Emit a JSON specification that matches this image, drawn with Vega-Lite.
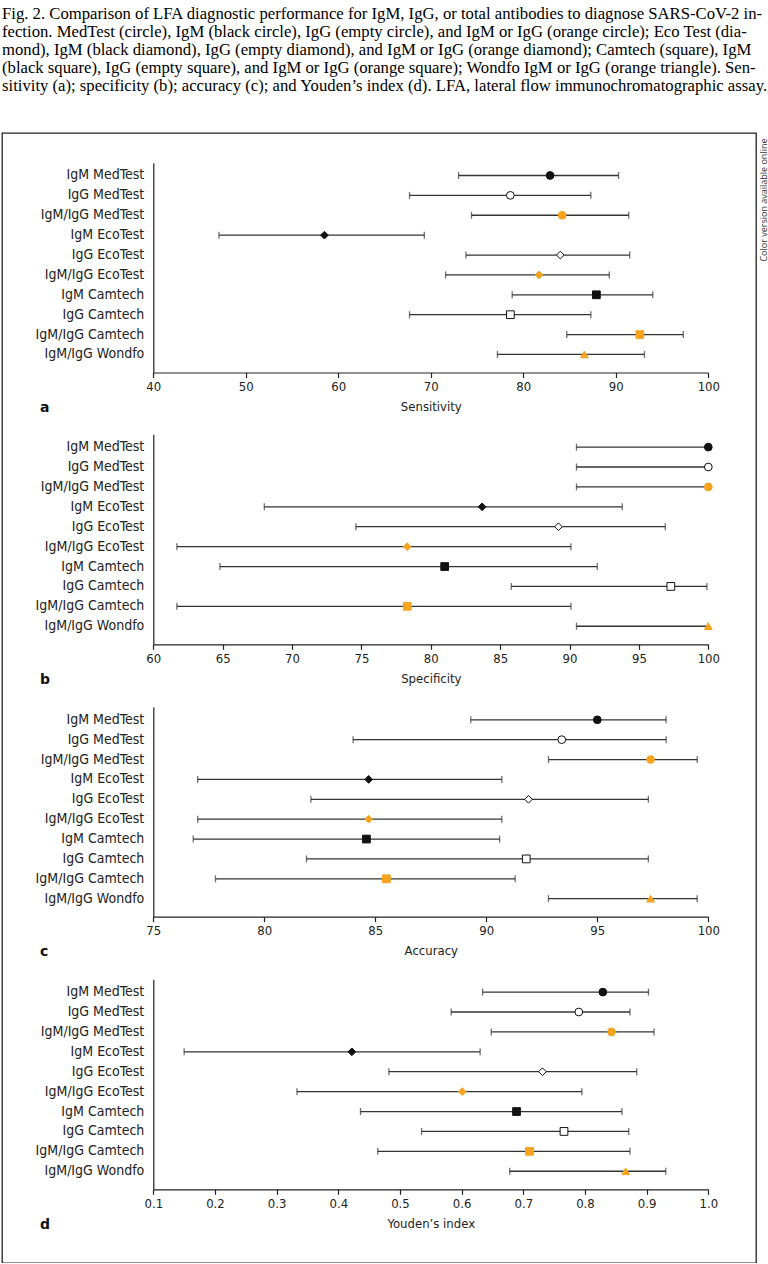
{
  "$schema": "https://vega.github.io/schema/vega-lite/v6.json",
  "width": 754,
  "height": 1130,
  "padding": {"left": 2, "top": 6, "right": 0, "bottom": 0},
  "background": "white",
  "title": {
    "text": [
      "Fig. 2. Comparison of LFA diagnostic performance for IgM, IgG, or total antibodies to diagnose SARS-CoV-2 in-",
      "fection. MedTest (circle), IgM (black circle), IgG (empty circle), and IgM or IgG (orange circle); Eco Test (dia-",
      "mond), IgM (black diamond), IgG (empty diamond), and IgM or IgG (orange diamond); Camtech (square), IgM",
      "(black square), IgG (empty square), and IgM or IgG (orange square); Wondfo IgM or IgG (orange triangle). Sen-",
      "sitivity (a); specificity (b); accuracy (c); and Youden’s index (d). LFA, lateral flow immunochromatographic assay."
    ],
    "anchor": "start",
    "frame": "group",
    "font": "Liberation Serif",
    "fontSize": 16.7,
    "fontWeight": "normal",
    "color": "#000",
    "lineHeight": 18,
    "offset": 38
  },
  "data": {
    "values": [
      {"panel": "a", "test": "IgM MedTest", "kit": "MedTest", "type": "IgM", "est": 82.9, "lo": 73.0, "hi": 90.3},
      {"panel": "a", "test": "IgG MedTest", "kit": "MedTest", "type": "IgG", "est": 78.6, "lo": 67.7, "hi": 87.3},
      {"panel": "a", "test": "IgM/IgG MedTest", "kit": "MedTest", "type": "IgM/IgG", "est": 84.2, "lo": 74.4, "hi": 91.4},
      {"panel": "a", "test": "IgM EcoTest", "kit": "EcoTest", "type": "IgM", "est": 58.5, "lo": 47.1, "hi": 69.3},
      {"panel": "a", "test": "IgG EcoTest", "kit": "EcoTest", "type": "IgG", "est": 84.0, "lo": 73.8, "hi": 91.5},
      {"panel": "a", "test": "IgM/IgG EcoTest", "kit": "EcoTest", "type": "IgM/IgG", "est": 81.7, "lo": 71.6, "hi": 89.3},
      {"panel": "a", "test": "IgM Camtech", "kit": "Camtech", "type": "IgM", "est": 87.9, "lo": 78.8, "hi": 94.0},
      {"panel": "a", "test": "IgG Camtech", "kit": "Camtech", "type": "IgG", "est": 78.6, "lo": 67.7, "hi": 87.3},
      {"panel": "a", "test": "IgM/IgG Camtech", "kit": "Camtech", "type": "IgM/IgG", "est": 92.6, "lo": 84.7, "hi": 97.3},
      {"panel": "a", "test": "IgM/IgG Wondfo", "kit": "Wondfo", "type": "IgM/IgG", "est": 86.6, "lo": 77.2, "hi": 93.1},

      {"panel": "b", "test": "IgM MedTest", "kit": "MedTest", "type": "IgM", "est": 100, "lo": 90.5, "hi": 100},
      {"panel": "b", "test": "IgG MedTest", "kit": "MedTest", "type": "IgG", "est": 100, "lo": 90.5, "hi": 100},
      {"panel": "b", "test": "IgM/IgG MedTest", "kit": "MedTest", "type": "IgM/IgG", "est": 100, "lo": 90.5, "hi": 100},
      {"panel": "b", "test": "IgM EcoTest", "kit": "EcoTest", "type": "IgM", "est": 83.7, "lo": 68.0, "hi": 93.8},
      {"panel": "b", "test": "IgG EcoTest", "kit": "EcoTest", "type": "IgG", "est": 89.2, "lo": 74.6, "hi": 96.9},
      {"panel": "b", "test": "IgM/IgG EcoTest", "kit": "EcoTest", "type": "IgM/IgG", "est": 78.3, "lo": 61.7, "hi": 90.1},
      {"panel": "b", "test": "IgM Camtech", "kit": "Camtech", "type": "IgM", "est": 81.0, "lo": 64.8, "hi": 92.0},
      {"panel": "b", "test": "IgG Camtech", "kit": "Camtech", "type": "IgG", "est": 97.3, "lo": 85.8, "hi": 99.9},
      {"panel": "b", "test": "IgM/IgG Camtech", "kit": "Camtech", "type": "IgM/IgG", "est": 78.3, "lo": 61.7, "hi": 90.1},
      {"panel": "b", "test": "IgM/IgG Wondfo", "kit": "Wondfo", "type": "IgM/IgG", "est": 100, "lo": 90.5, "hi": 100},

      {"panel": "c", "test": "IgM MedTest", "kit": "MedTest", "type": "IgM", "est": 95.0, "lo": 89.3, "hi": 98.1},
      {"panel": "c", "test": "IgG MedTest", "kit": "MedTest", "type": "IgG", "est": 93.4, "lo": 84.0, "hi": 98.1},
      {"panel": "c", "test": "IgM/IgG MedTest", "kit": "MedTest", "type": "IgM/IgG", "est": 97.4, "lo": 92.8, "hi": 99.5},
      {"panel": "c", "test": "IgM EcoTest", "kit": "EcoTest", "type": "IgM", "est": 84.7, "lo": 77.0, "hi": 90.7},
      {"panel": "c", "test": "IgG EcoTest", "kit": "EcoTest", "type": "IgG", "est": 91.9, "lo": 82.1, "hi": 97.3},
      {"panel": "c", "test": "IgM/IgG EcoTest", "kit": "EcoTest", "type": "IgM/IgG", "est": 84.7, "lo": 77.0, "hi": 90.7},
      {"panel": "c", "test": "IgM Camtech", "kit": "Camtech", "type": "IgM", "est": 84.6, "lo": 76.8, "hi": 90.6},
      {"panel": "c", "test": "IgG Camtech", "kit": "Camtech", "type": "IgG", "est": 91.8, "lo": 81.9, "hi": 97.3},
      {"panel": "c", "test": "IgM/IgG Camtech", "kit": "Camtech", "type": "IgM/IgG", "est": 85.5, "lo": 77.8, "hi": 91.3},
      {"panel": "c", "test": "IgM/IgG Wondfo", "kit": "Wondfo", "type": "IgM/IgG", "est": 97.4, "lo": 92.8, "hi": 99.5},

      {"panel": "d", "test": "IgM MedTest", "kit": "MedTest", "type": "IgM", "est": 0.829, "lo": 0.634, "hi": 0.903},
      {"panel": "d", "test": "IgG MedTest", "kit": "MedTest", "type": "IgG", "est": 0.790, "lo": 0.583, "hi": 0.873},
      {"panel": "d", "test": "IgM/IgG MedTest", "kit": "MedTest", "type": "IgM/IgG", "est": 0.843, "lo": 0.648, "hi": 0.912},
      {"panel": "d", "test": "IgM EcoTest", "kit": "EcoTest", "type": "IgM", "est": 0.422, "lo": 0.150, "hi": 0.630},
      {"panel": "d", "test": "IgG EcoTest", "kit": "EcoTest", "type": "IgG", "est": 0.731, "lo": 0.482, "hi": 0.884},
      {"panel": "d", "test": "IgM/IgG EcoTest", "kit": "EcoTest", "type": "IgM/IgG", "est": 0.601, "lo": 0.333, "hi": 0.795},
      {"panel": "d", "test": "IgM Camtech", "kit": "Camtech", "type": "IgM", "est": 0.689, "lo": 0.436, "hi": 0.860},
      {"panel": "d", "test": "IgG Camtech", "kit": "Camtech", "type": "IgG", "est": 0.766, "lo": 0.535, "hi": 0.871},
      {"panel": "d", "test": "IgM/IgG Camtech", "kit": "Camtech", "type": "IgM/IgG", "est": 0.710, "lo": 0.464, "hi": 0.873},
      {"panel": "d", "test": "IgM/IgG Wondfo", "kit": "Wondfo", "type": "IgM/IgG", "est": 0.866, "lo": 0.678, "hi": 0.931}
    ]
  },
  "layer": [
    {
      "transform": [{"filter": "datum.panel === 'a'"}],
      "resolve": {"axis": {"x": "independent", "y": "independent"}},
      "layer": [
        {
          "mark": {"type": "rule", "color": "#333", "strokeWidth": 1.3},
          "encoding": {
            "y": {"field": "test", "type": "nominal",
              "scale": {"domain": ["IgM MedTest", "IgG MedTest", "IgM/IgG MedTest", "IgM EcoTest", "IgG EcoTest", "IgM/IgG EcoTest", "IgM Camtech", "IgG Camtech", "IgM/IgG Camtech", "IgM/IgG Wondfo"], "range": [29.7, 239.5], "padding": 0.55, "align": 0.38, "round": false},
              "axis": {"orient": "left", "offset": -151.3, "title": "a", "titleAngle": 0, "titleAlign": "left", "titleBaseline": "middle", "titleX": -113.8, "titleY": 274.7, "titleFont": "DejaVu Sans", "titleFontWeight": "bold", "titleFontSize": 14, "titleColor": "#111"}},
            "x": {"field": "lo", "type": "quantitative",
              "scale": {"domain": [40, 100], "range": [151.3, 706.3], "nice": false, "zero": false},
              "axis": {"orient": "bottom", "offset": -890.5, "values": [40, 50, 60, 70, 80, 90, 100], "title": "Sensitivity"}},
            "x2": {"field": "hi"}
          }
        },
        {
          "mark": {"type": "tick", "color": "#333", "thickness": 1.3, "size": 7},
          "encoding": {
            "y": {"field": "test", "type": "nominal", "axis": null},
            "x": {"field": "lo", "type": "quantitative", "axis": null}
          }
        },
        {
          "mark": {"type": "tick", "color": "#333", "thickness": 1.3, "size": 7},
          "encoding": {
            "y": {"field": "test", "type": "nominal", "axis": null},
            "x": {"field": "hi", "type": "quantitative", "axis": null}
          }
        },
        {
          "mark": {"type": "point", "filled": true, "size": 60, "strokeWidth": 1, "opacity": 1},
          "encoding": {
            "y": {"field": "test", "type": "nominal",
              "axis": {"orient": "right", "offset": 0, "domain": false, "ticks": false, "labels": false, "title": "Color version available online", "titleAngle": 270, "titleAlign": "right", "titleBaseline": "middle", "titleX": 7.3, "titleY": 5, "titleFont": "Open Sans", "titleFontSize": 9, "titleFontWeight": "normal", "titleColor": "#333"}},
            "x": {"field": "est", "type": "quantitative", "axis": null},
            "shape": {"field": "kit", "type": "nominal", "scale": {"domain": ["MedTest", "EcoTest", "Camtech", "Wondfo"], "range": ["circle", "diamond", "square", "triangle-up"]}, "legend": null},
            "fill": {"field": "type", "type": "nominal", "scale": {"domain": ["IgM", "IgG", "IgM/IgG"], "range": ["#111111", "#ffffff", "#F6A31E"]}, "legend": null},
            "stroke": {"field": "type", "type": "nominal", "scale": {"domain": ["IgM", "IgG", "IgM/IgG"], "range": ["#111111", "#111111", "#F6A31E"]}, "legend": null}
          }
        }
      ]
    },
    {
      "transform": [{"filter": "datum.panel === 'b'"}],
      "resolve": {"axis": {"x": "independent", "y": "independent"}},
      "layer": [
        {
          "mark": {"type": "rule", "color": "#333", "strokeWidth": 1.3},
          "encoding": {
            "y": {"field": "test", "type": "nominal",
              "scale": {"domain": ["IgM MedTest", "IgG MedTest", "IgM/IgG MedTest", "IgM EcoTest", "IgG EcoTest", "IgM/IgG EcoTest", "IgM Camtech", "IgG Camtech", "IgM/IgG Camtech", "IgM/IgG Wondfo"], "range": [301.3, 511.3], "padding": 0.55, "align": 0.38, "round": false},
              "axis": {"orient": "left", "offset": -151.3, "title": "b", "titleAngle": 0, "titleAlign": "left", "titleBaseline": "middle", "titleX": -113.8, "titleY": 546, "titleFont": "DejaVu Sans", "titleFontWeight": "bold", "titleFontSize": 14, "titleColor": "#111"}},
            "x": {"field": "lo", "type": "quantitative",
              "scale": {"domain": [60, 100], "range": [151.3, 706.3], "nice": false, "zero": false},
              "axis": {"orient": "bottom", "offset": -618.7, "values": [60, 65, 70, 75, 80, 85, 90, 95, 100], "title": "Specificity"}},
            "x2": {"field": "hi"}
          }
        },
        {
          "mark": {"type": "tick", "color": "#333", "thickness": 1.3, "size": 7},
          "encoding": {
            "y": {"field": "test", "type": "nominal", "axis": null},
            "x": {"field": "lo", "type": "quantitative", "axis": null}
          }
        },
        {
          "mark": {"type": "tick", "color": "#333", "thickness": 1.3, "size": 7},
          "encoding": {
            "y": {"field": "test", "type": "nominal", "axis": null},
            "x": {"field": "hi", "type": "quantitative", "axis": null}
          }
        },
        {
          "mark": {"type": "point", "filled": true, "size": 60, "strokeWidth": 1, "opacity": 1},
          "encoding": {
            "y": {"field": "test", "type": "nominal", "axis": null},
            "x": {"field": "est", "type": "quantitative", "axis": null},
            "shape": {"field": "kit", "type": "nominal", "legend": null},
            "fill": {"field": "type", "type": "nominal", "legend": null},
            "stroke": {"field": "type", "type": "nominal", "legend": null}
          }
        }
      ]
    },
    {
      "transform": [{"filter": "datum.panel === 'c'"}],
      "resolve": {"axis": {"x": "independent", "y": "independent"}},
      "layer": [
        {
          "mark": {"type": "rule", "color": "#333", "strokeWidth": 1.3},
          "encoding": {
            "y": {"field": "test", "type": "nominal",
              "scale": {"domain": ["IgM MedTest", "IgG MedTest", "IgM/IgG MedTest", "IgM EcoTest", "IgG EcoTest", "IgM/IgG EcoTest", "IgM Camtech", "IgG Camtech", "IgM/IgG Camtech", "IgM/IgG Wondfo"], "range": [574, 783.7], "padding": 0.55, "align": 0.38, "round": false},
              "axis": {"orient": "left", "offset": -151.3, "title": "c", "titleAngle": 0, "titleAlign": "left", "titleBaseline": "middle", "titleX": -113.8, "titleY": 818.7, "titleFont": "DejaVu Sans", "titleFontWeight": "bold", "titleFontSize": 14, "titleColor": "#111"}},
            "x": {"field": "lo", "type": "quantitative",
              "scale": {"domain": [75, 100], "range": [151.3, 706.3], "nice": false, "zero": false},
              "axis": {"orient": "bottom", "offset": -346.3, "values": [75, 80, 85, 90, 95, 100], "title": "Accuracy"}},
            "x2": {"field": "hi"}
          }
        },
        {
          "mark": {"type": "tick", "color": "#333", "thickness": 1.3, "size": 7},
          "encoding": {
            "y": {"field": "test", "type": "nominal", "axis": null},
            "x": {"field": "lo", "type": "quantitative", "axis": null}
          }
        },
        {
          "mark": {"type": "tick", "color": "#333", "thickness": 1.3, "size": 7},
          "encoding": {
            "y": {"field": "test", "type": "nominal", "axis": null},
            "x": {"field": "hi", "type": "quantitative", "axis": null}
          }
        },
        {
          "mark": {"type": "point", "filled": true, "size": 60, "strokeWidth": 1, "opacity": 1},
          "encoding": {
            "y": {"field": "test", "type": "nominal", "axis": null},
            "x": {"field": "est", "type": "quantitative", "axis": null},
            "shape": {"field": "kit", "type": "nominal", "legend": null},
            "fill": {"field": "type", "type": "nominal", "legend": null},
            "stroke": {"field": "type", "type": "nominal", "legend": null}
          }
        }
      ]
    },
    {
      "transform": [{"filter": "datum.panel === 'd'"}],
      "resolve": {"axis": {"x": "independent", "y": "independent"}},
      "layer": [
        {
          "mark": {"type": "rule", "color": "#333", "strokeWidth": 1.3},
          "encoding": {
            "y": {"field": "test", "type": "nominal",
              "scale": {"domain": ["IgM MedTest", "IgG MedTest", "IgM/IgG MedTest", "IgM EcoTest", "IgG EcoTest", "IgM/IgG EcoTest", "IgM Camtech", "IgG Camtech", "IgM/IgG Camtech", "IgM/IgG Wondfo"], "range": [846.3, 1056.3], "padding": 0.55, "align": 0.38, "round": false},
              "axis": {"orient": "left", "offset": -151.3, "title": "d", "titleAngle": 0, "titleAlign": "left", "titleBaseline": "middle", "titleX": -113.8, "titleY": 1091.3, "titleFont": "DejaVu Sans", "titleFontWeight": "bold", "titleFontSize": 14, "titleColor": "#111"}},
            "x": {"field": "lo", "type": "quantitative",
              "scale": {"domain": [0.1, 1.0], "range": [151.3, 706.3], "nice": false, "zero": false},
              "axis": {"orient": "bottom", "offset": -73.7, "values": [0.1, 0.2, 0.3, 0.4, 0.5, 0.6, 0.7, 0.8, 0.9, 1.0], "format": ".1f", "title": "Youden’s index"}},
            "x2": {"field": "hi"}
          }
        },
        {
          "mark": {"type": "tick", "color": "#333", "thickness": 1.3, "size": 7},
          "encoding": {
            "y": {"field": "test", "type": "nominal", "axis": null},
            "x": {"field": "lo", "type": "quantitative", "axis": null}
          }
        },
        {
          "mark": {"type": "tick", "color": "#333", "thickness": 1.3, "size": 7},
          "encoding": {
            "y": {"field": "test", "type": "nominal", "axis": null},
            "x": {"field": "hi", "type": "quantitative", "axis": null}
          }
        },
        {
          "mark": {"type": "point", "filled": true, "size": 60, "strokeWidth": 1, "opacity": 1},
          "encoding": {
            "y": {"field": "test", "type": "nominal", "axis": null},
            "x": {"field": "est", "type": "quantitative", "axis": null},
            "shape": {"field": "kit", "type": "nominal", "legend": null},
            "fill": {"field": "type", "type": "nominal", "legend": null},
            "stroke": {"field": "type", "type": "nominal", "legend": null}
          }
        }
      ]
    }
  ],
  "resolve": {"scale": {"x": "independent", "y": "independent"}, "axis": {"x": "independent", "y": "independent"}},
  "config": {
    "view": {"stroke": "#222", "strokeWidth": 1.3},
    "axis": {
      "grid": false,
      "domainColor": "#222",
      "domainWidth": 1.2,
      "tickColor": "#222",
      "tickWidth": 1.2,
      "labelFont": "DejaVu Sans Condensed",
      "labelFontSize": 13,
      "labelColor": "#222",
      "titleFont": "DejaVu Sans Condensed",
      "titleFontSize": 13,
      "titleFontWeight": "normal",
      "titleColor": "#222"
    },
    "axisX": {"tickSize": 5, "labelPadding": 3, "titlePadding": 7, "labelFlush": false, "labelOverlap": false, "labelBound": false},
    "axisY": {"ticks": false, "tickSize": 0, "labelPadding": 9.5, "labelFontSize": 14, "labelOverlap": false, "labelBound": false}
  }
}
